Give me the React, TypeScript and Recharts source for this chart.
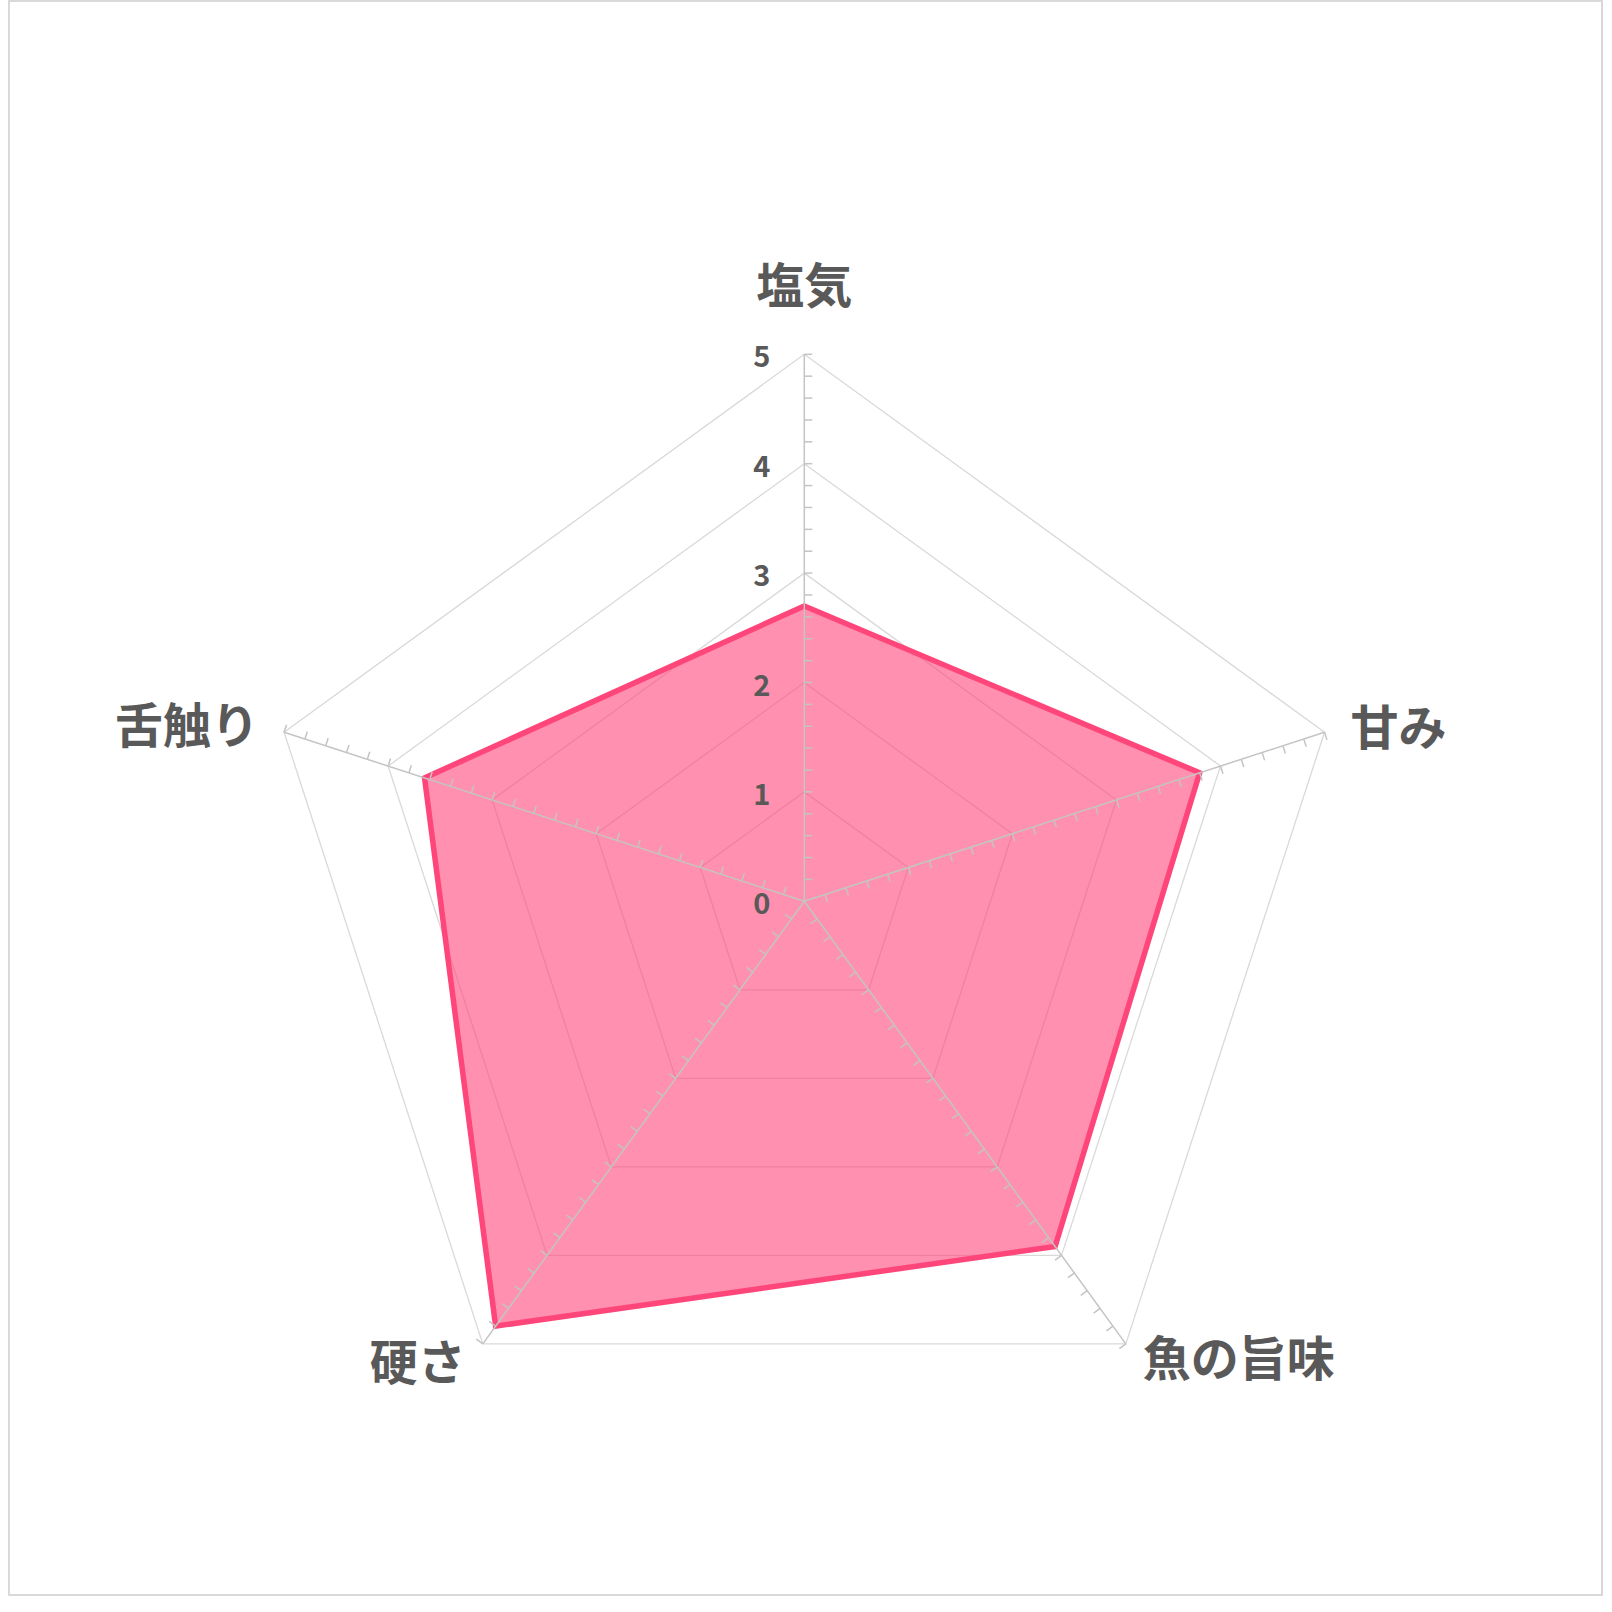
import { RadarChart, PolarGrid, PolarAngleAxis, PolarRadiusAxis, Radar } from "recharts";

const CATEGORIES = ["塩気", "甘み", "魚の旨味", "硬さ", "舌触り"];
const SCORES = [2.7, 3.8, 3.9, 4.8, 3.65];
const RADIUS_TICKS = [0, 1, 2, 3, 4, 5];
// minor tick marks sit every 0.2 below each major tick
const MINOR_STEPS = [0, 0.2, 0.4, 0.6, 0.8];

const data = CATEGORIES.map((name, i) => ({ name, score: SCORES[i] }));

const WIDTH = 1591;
const HEIGHT = 1592;
const CX = 794.3;
const CY = 899.3;
const OUTER = 547;

const TEXT = "#595959";
const SPOKE = "#c4c4c4";
const GRID = "#d9d9d9";
const PINK = "#FF467A";
const FONT = "'Noto Sans CJK JP', 'Noto Sans', sans-serif";

const SPOKE_ANGLES = CATEGORIES.map((_, i) => 90 - (i * 360) / CATEGORIES.length);

function RadiusTick(props: any) {
  const { payload, x, y } = props;
  const cx = props.cx ?? CX;
  const cy = props.cy ?? CY;
  const value = payload.value;
  const r = payload.coordinate;
  const unit = value > 0 ? r / value : 0;
  const lines: any[] = [];

  SPOKE_ANGLES.forEach((a, s) => {
    const rad = (a * Math.PI) / 180;
    const ux = Math.cos(rad);
    const uy = -Math.sin(rad);
    const px = Math.sin(rad);
    const py = Math.cos(rad);
    if (value === RADIUS_TICKS[RADIUS_TICKS.length - 1]) {
      lines.push(
        <line key={`sp${s}`} x1={cx} y1={cy} x2={cx + ux * r} y2={cy + uy * r} stroke={SPOKE} strokeWidth={1.5} />
      );
    }
    if (value > 0) {
      MINOR_STEPS.forEach((m, k) => {
        const rr = (value - m) * unit;
        const x0 = cx + ux * rr;
        const y0 = cy + uy * rr;
        lines.push(
          <line key={`t${s}-${k}`} x1={x0} y1={y0} x2={x0 + px * 8} y2={y0 + py * 8} stroke={SPOKE} strokeWidth={1.5} />
        );
      });
    }
  });

  return (
    <g>
      {lines}
      <text
        x={x - 34}
        y={y}
        textAnchor="end"
        dominantBaseline="central"
        fontFamily={FONT}
        fontWeight={700}
        fontSize={29}
        fill={TEXT}
      >
        {value}
      </text>
    </g>
  );
}

const LABEL_POS = [
  { dx: 0, dy: -72, anchor: "middle" },
  { dx: 26, dy: -8, anchor: "start" },
  { dx: 17, dy: 11, anchor: "start" },
  { dx: -17, dy: 15, anchor: "end" },
  { dx: -25, dy: -10, anchor: "end" },
];

function AngleTick(props: any) {
  const { payload, index } = props;
  const cx = props.cx ?? CX;
  const cy = props.cy ?? CY;
  const radius = props.radius ?? OUTER;
  const rad = (payload.coordinate * Math.PI) / 180;
  const vx = cx + Math.cos(rad) * radius;
  const vy = cy - Math.sin(rad) * radius;
  const pos = LABEL_POS[index] ?? LABEL_POS[0];
  return (
    <text
      x={vx + pos.dx}
      y={vy + pos.dy}
      textAnchor={pos.anchor}
      dominantBaseline="central"
      fontFamily={FONT}
      fontWeight={700}
      fontSize={48}
      fill={TEXT}
    >
      {payload.value}
    </text>
  );
}

export default function App() {
  return (
    <div
      style={{
        position: "absolute",
        left: 8,
        top: 0,
        width: 1595,
        height: 1596,
        border: "2px solid #d9d9d9",
        boxSizing: "border-box",
        background: "#fff",
      }}
    >
      <RadarChart
        width={WIDTH}
        height={HEIGHT}
        data={data}
        cx={CX}
        cy={CY}
        outerRadius={OUTER}
        margin={{ top: 0, right: 0, bottom: 0, left: 0 }}
      >
        <PolarGrid gridType="polygon" radialLines={false} stroke={GRID} strokeWidth={1.3} />
        <Radar
          dataKey="score"
          stroke={PINK}
          strokeWidth={5.5}
          strokeLinejoin="miter"
          fill={PINK}
          fillOpacity={0.6}
          dot={false}
          isAnimationActive={false}
        />
        <PolarRadiusAxis
          angle={90}
          type="number"
          domain={[0, 5]}
          ticks={RADIUS_TICKS}
          tickCount={6}
          axisLine={false}
          tick={(p: any) => <RadiusTick {...p} />}
        />
        <PolarAngleAxis
          dataKey="name"
          axisLine={false}
          tickLine={false}
          tick={(p: any) => <AngleTick {...p} />}
        />
      </RadarChart>
    </div>
  );
}
